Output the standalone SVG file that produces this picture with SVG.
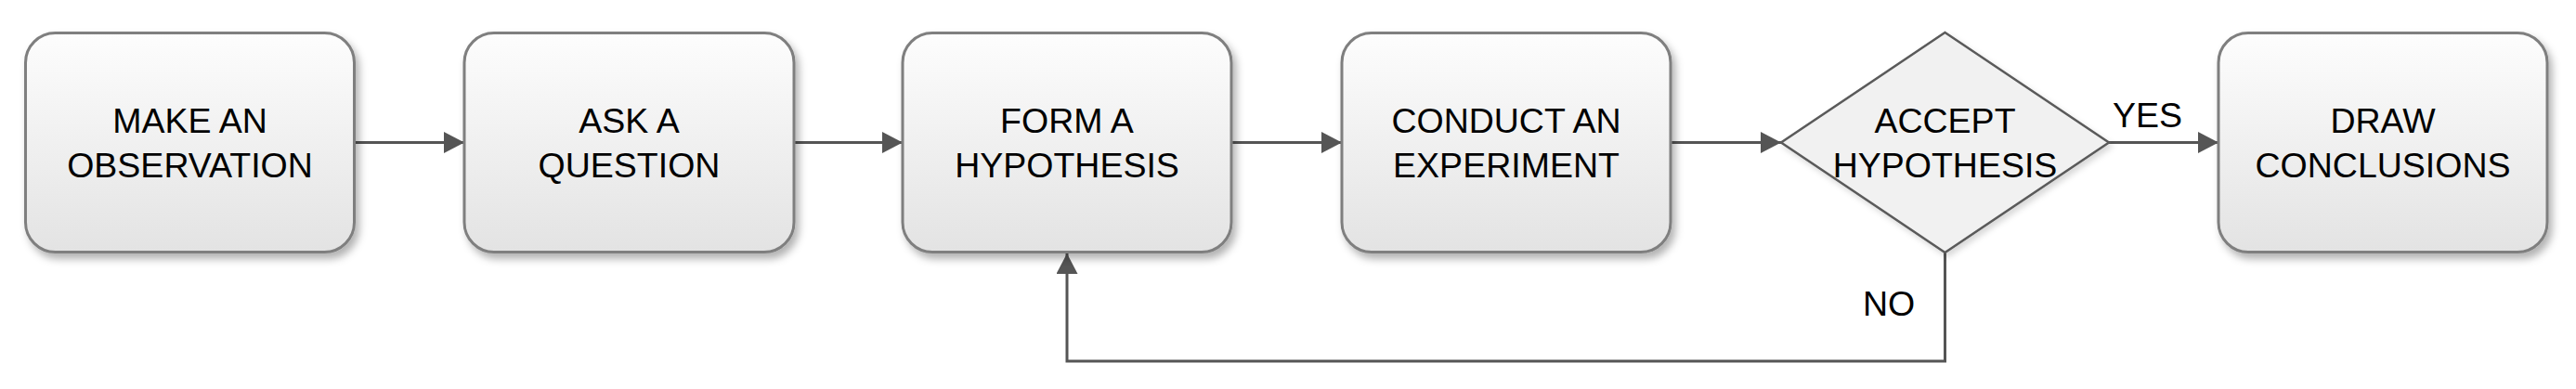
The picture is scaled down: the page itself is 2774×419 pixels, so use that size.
<svg xmlns="http://www.w3.org/2000/svg" width="2774" height="419" viewBox="0 0 2774 419">
<style>
.box{fill:url(#g);stroke:#7f7f7f;stroke-width:3;filter:url(#sh)}
.dia{fill:#f1f1f1;stroke:#5a5a5a;stroke-width:2.5;filter:url(#sh2)}
.t{font-family:"Liberation Sans",Arial,sans-serif;font-size:37.5px;fill:#000;text-anchor:middle}
.c{fill:none;stroke:#555;stroke-width:3}
</style>
<defs>
<linearGradient id="g" x1="0" y1="0" x2="0" y2="1">
<stop offset="0" stop-color="#fdfdfd"/>
<stop offset="1" stop-color="#e3e3e3"/>
</linearGradient>
<filter id="sh" x="-10%" y="-10%" width="125%" height="130%">
<feDropShadow dx="4" dy="6" stdDeviation="4" flood-color="#000" flood-opacity="0.3"/>
</filter>
<filter id="sh2" x="-10%" y="-10%" width="125%" height="130%">
<feDropShadow dx="3" dy="4" stdDeviation="3" flood-color="#000" flood-opacity="0.15"/>
</filter>
<marker id="ah" markerUnits="userSpaceOnUse" markerWidth="24" markerHeight="24" refX="22" refY="11.5" orient="auto">
<path d="M0,0 L22,11.5 L0,23 z" fill="#555"/>
</marker>
</defs>
<g id="connectors">
<line class="c" x1="382" y1="153.5" x2="500" y2="153.5" marker-end="url(#ah)"/>
<line class="c" x1="855" y1="153.5" x2="972" y2="153.5" marker-end="url(#ah)"/>
<line class="c" x1="1327" y1="153.5" x2="1445" y2="153.5" marker-end="url(#ah)"/>
<line class="c" x1="1800" y1="153.5" x2="1918" y2="153.5" marker-end="url(#ah)"/>
<line class="c" x1="2271" y1="153.5" x2="2389" y2="153.5" marker-end="url(#ah)"/>
<path class="c" d="M2094.5,272 V389 H1149 V273" marker-end="url(#ah)"/>
<text class="t" x="2312.5" y="137">YES</text>
<text class="t" x="2034" y="340">NO</text>
</g>
<g id="n1">
<rect class="box" x="27.5" y="35.5" width="354" height="236" rx="32"/>
<text class="t" x="204.5" y="143">MAKE AN</text>
<text class="t" x="204.5" y="190.5">OBSERVATION</text>
</g>
<g id="n2">
<rect class="box" x="500" y="35.5" width="355" height="236" rx="32"/>
<text class="t" x="677.5" y="143">ASK A</text>
<text class="t" x="677.5" y="190.5">QUESTION</text>
</g>
<g id="n3">
<rect class="box" x="972" y="35.5" width="354" height="236" rx="32"/>
<text class="t" x="1149" y="143">FORM A</text>
<text class="t" x="1149" y="190.5">HYPOTHESIS</text>
</g>
<g id="n4">
<rect class="box" x="1445" y="35.5" width="354" height="236" rx="32"/>
<text class="t" x="1622" y="143">CONDUCT AN</text>
<text class="t" x="1622" y="190.5">EXPERIMENT</text>
</g>
<g id="n5">
<polygon class="dia" points="2094.5,35 2271,153.5 2094.5,272 1918,153.5"/>
<text class="t" x="2094.5" y="143">ACCEPT</text>
<text class="t" x="2094.5" y="190.5">HYPOTHESIS</text>
</g>
<g id="n6">
<rect class="box" x="2389" y="35.5" width="354" height="236" rx="32"/>
<text class="t" x="2566" y="143">DRAW</text>
<text class="t" x="2566" y="190.5">CONCLUSIONS</text>
</g>
</svg>
